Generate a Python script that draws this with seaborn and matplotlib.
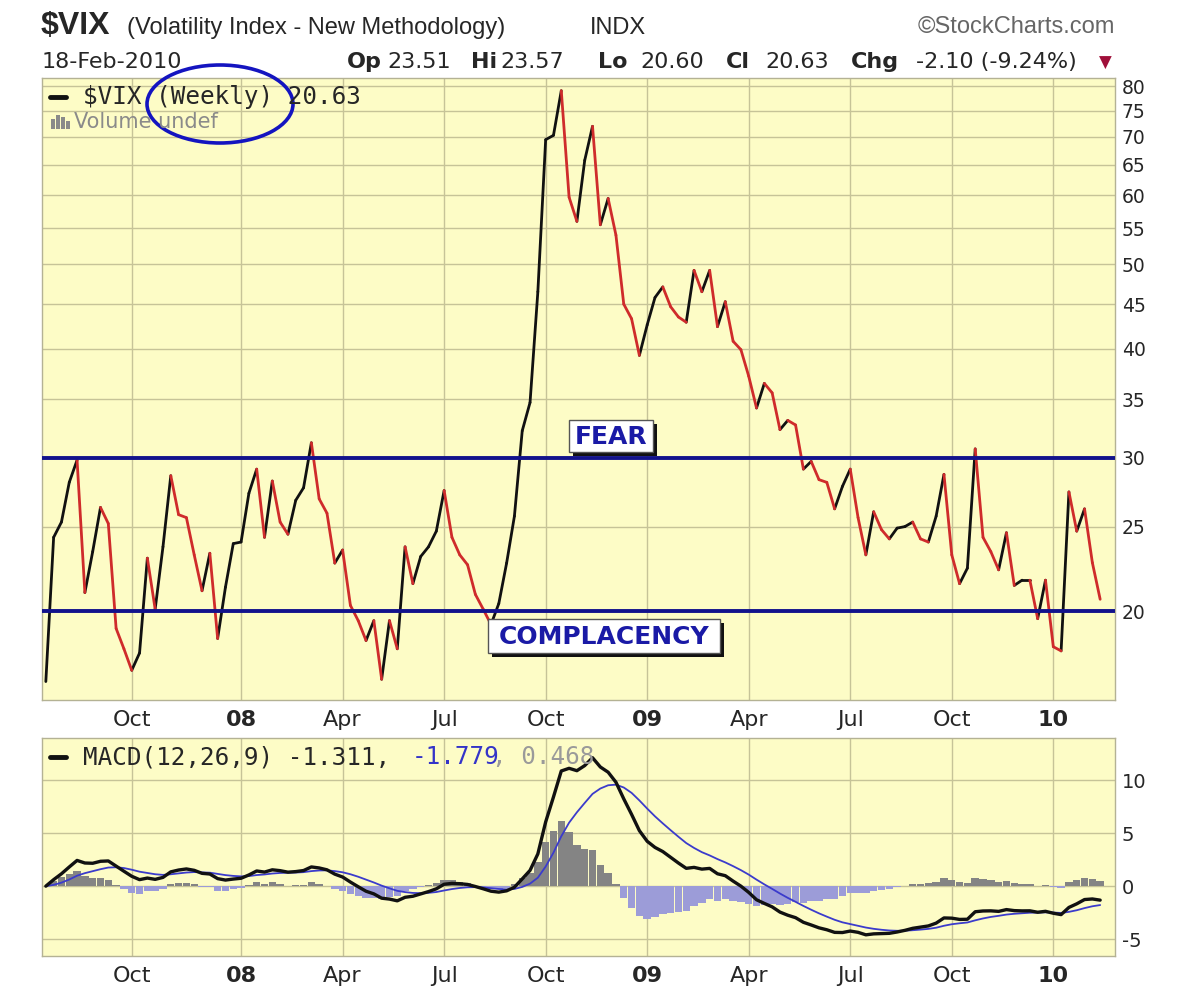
import numpy as np
import pandas as pd
import matplotlib
matplotlib.use("Agg")
import matplotlib.pyplot as plt
import seaborn as sns
from matplotlib.patches import Ellipse, Rectangle
from matplotlib.lines import Line2D
from matplotlib.ticker import NullLocator

# weekly closes of $VIX (week of 16-Jul-2007 .. week of 15-Feb-2010)
vix_close = [
    16.6, 24.3, 25.3, 28.1, 29.8, 21.0, 23.4, 26.3, 25.2, 19.1,
    18.1, 17.1, 17.9, 23.0, 20.1, 23.7, 28.6, 25.8, 25.6, 23.2,
    21.1, 23.3, 18.6, 21.3, 23.9, 24.0, 27.3, 29.1, 24.3, 28.2,
    25.3, 24.5, 26.8, 27.7, 31.2, 26.9, 25.9, 22.7, 23.5, 20.3,
    19.5, 18.5, 19.5, 16.7, 19.5, 18.1, 23.7, 21.5, 23.1, 23.7,
    24.7, 27.5, 24.3, 23.2, 22.6, 20.9, 20.1, 19.3, 20.4, 22.7,
    25.7, 32.2, 34.7, 46.5, 69.5, 70.3, 79.1, 59.7, 56.0, 65.8,
    72.0, 55.5, 59.5, 54.0, 45.0, 43.3, 39.3, 42.6, 45.8, 47.1,
    44.7, 43.5, 42.9, 49.2, 46.5, 49.2, 42.4, 45.3, 40.8, 39.9,
    37.2, 34.2, 36.5, 35.6, 32.3, 33.1, 32.7, 29.1, 29.7, 28.3,
    28.1, 26.2, 27.8, 29.1, 25.6, 23.2, 26.0, 24.8, 24.2, 24.9,
    25.0, 25.3, 24.2, 24.0, 25.7, 28.7, 23.2, 21.5, 22.4, 30.7,
    24.3, 23.4, 22.3, 24.6, 21.4, 21.7, 21.7, 19.6, 21.7, 18.2,
    18.0, 27.4, 24.7, 26.2, 22.73, 20.63,
]
week_start = pd.date_range("2007-07-16", periods=len(vix_close), freq="W-MON")
quarter_labels = ["Oct", "08", "Apr", "Jul", "Oct", "09", "Apr", "Jul", "Oct", "10"]
vix_ticks = [20, 25, 30, 35, 40, 45, 50, 55, 60, 65, 70, 75, 80]
macd_ticks = [-5, 0, 5, 10]
macd_tick_labels = ["-5", "0", "5", "10"]
fear_level = 30
complacency_level = 20

W, H = 1200, 997
def fx(x):
    return x / W
def fy(y):
    return 1 - y / H

n = len(vix_close)
idx = np.arange(n)
months = week_start.month
qpos = [i for i in range(1, n) if months[i] != months[i - 1] and months[i] in (1, 4, 7, 10)]

# up/down coloured line segments
rows = []
for k in range(n - 1):
    d = "up" if vix_close[k + 1] >= vix_close[k] else "down"
    rows.append((k, k, vix_close[k], d))
    rows.append((k, k + 1, vix_close[k + 1], d))
seg = pd.DataFrame(rows, columns=["seg", "x", "vix", "dir"])

# MACD(12,26,9)
s = pd.Series(vix_close)
macd = s.ewm(span=12, adjust=False).mean() - s.ewm(span=26, adjust=False).mean()
signal = macd.ewm(span=9, adjust=False).mean()
hist = macd - signal
mdf = pd.DataFrame({"x": idx, "macd": macd, "signal": signal})

sns.set_style("white")
plt.rcParams["font.family"] = ["DejaVu Sans"]

panel_bg = "#fdfcc6"
grid_col = "#c6c398"
navy = "#12128c"
label_blue = "#1a1aa6"

fig = plt.figure(figsize=(12, 9.97), dpi=100)

# ---- price panel
ax = fig.add_axes([fx(42), fy(700), (1115 - 42) / W, (700 - 78) / H])
ax.set_facecolor(panel_bg)
ax.set_yscale("log")
sns.lineplot(data=seg, x="x", y="vix", hue="dir", units="seg", estimator=None,
             palette={"up": "#111111", "down": "#cf2b2b"}, linewidth=2.0,
             legend=False, sort=False, ax=ax, solid_capstyle="round", zorder=2)
ax.axhline(fear_level, color=navy, lw=2.8, zorder=3)
ax.axhline(complacency_level, color=navy, lw=2.8, zorder=3)
ax.set_xlim(-0.49, 136.9)
ax.set_ylim(15.81, 81.8)
ax.yaxis.tick_right()
ax.set_yticks(vix_ticks)
ax.set_yticklabels([str(t) for t in vix_ticks])
ax.yaxis.set_minor_locator(NullLocator())
ax.set_xticks(qpos)
ax.set_xticklabels(quarter_labels)
ax.set_xlabel("")
ax.set_ylabel("")
ax.grid(True, color=grid_col, lw=1)
ax.set_axisbelow(True)
ax.tick_params(axis="y", length=0, labelsize=13.5, pad=5)
ax.tick_params(axis="x", length=0, labelsize=16, pad=7)

# ---- MACD panel
ax2 = fig.add_axes([fx(42), fy(956), (1115 - 42) / W, (956 - 738) / H])
ax2.set_facecolor(panel_bg)
ax2.bar(idx, hist, width=0.95, color=np.where(hist >= 0, "#848484", "#9c9cd8"), linewidth=0, zorder=2)
sns.lineplot(data=mdf, x="x", y="signal", color="#3b3bcc", linewidth=1.3, ax=ax2, zorder=3)
sns.lineplot(data=mdf, x="x", y="macd", color="#111111", linewidth=2.4, ax=ax2, zorder=4)
ax2.set_xlim(-0.49, 136.9)
ax2.set_ylim(-6.6, 14.0)
ax2.yaxis.tick_right()
ax2.set_yticks(macd_ticks)
ax2.set_yticklabels(macd_tick_labels)
ax2.set_xticks(qpos)
ax2.set_xticklabels(quarter_labels)
ax2.set_xlabel("")
ax2.set_ylabel("")
ax2.grid(True, color=grid_col, lw=1)
ax2.set_axisbelow(True)
ax2.tick_params(axis="y", length=0, labelsize=14, pad=5)
ax2.tick_params(axis="x", length=0, labelsize=16, pad=7)

for a in (ax, ax2):
    for sp in a.spines.values():
        sp.set_color("#b4b294")
        sp.set_linewidth(1)
    for lab in a.get_xticklabels():
        if lab.get_text().isdigit():
            lab.set_fontweight("bold")

# ---- header text
fig.text(fx(41), fy(26), "$VIX", fontsize=23, fontweight="bold", va="center", family="Liberation Sans")
fig.text(fx(127), fy(28), "(Volatility Index - New Methodology)", fontsize=17, va="center", family="Liberation Sans")
fig.text(fx(590), fy(28), "INDX", fontsize=17, va="center", family="Liberation Sans")
fig.text(fx(1115), fy(27), "\u00a9StockCharts.com", fontsize=17, va="center", ha="right", color="#666666",
         family="Liberation Sans")
fig.text(fx(42), fy(62), "18-Feb-2010", fontsize=16, va="center", family="DejaVu Sans")
hdr = [("Op", 347, True), ("23.51", 387, False), ("Hi", 471, True), ("23.57", 500, False),
       ("Lo", 598, True), ("20.60", 640, False), ("Cl", 726, True), ("20.63", 765, False),
       ("Chg", 851, True), ("-2.10 (-9.24%)", 916, False)]
for txt, x, bold in hdr:
    fig.text(fx(x), fy(62), txt, fontsize=16, va="center",
             fontweight="bold" if bold else "normal", family="DejaVu Sans")
fig.text(fx(1105), fy(63), "\u25bc", fontsize=12, va="center", ha="center", color="#a0103a")

# ---- legends inside panels
fig.add_artist(Line2D([fx(50), fx(66)], [fy(97), fy(97)], color="#111111", lw=3.5))
fig.text(fx(83), fy(97), "$VIX (Weekly) 20.63", fontsize=17.5, va="center", family="DejaVu Sans Mono")
for bx, bh in [(51, 10), (56, 14), (61, 12), (66, 8)]:
    fig.add_artist(Rectangle((fx(bx), fy(129)), 3.5 / W, bh / H, color="#8a8a8a", lw=0))
fig.text(fx(74), fy(122), "Volume undef", fontsize=15, va="center", color="#8a8a8a")
fig.add_artist(Ellipse((fx(220), fy(104)), 146 / W, 78 / H, angle=0, fill=False, ec="#1414c0", lw=2.6))

fig.add_artist(Line2D([fx(50), fx(66)], [fy(757), fy(757)], color="#111111", lw=3.5))
fig.text(fx(83), fy(757), "MACD(12,26,9) -1.311,", fontsize=17.5, va="center", family="DejaVu Sans Mono")
fig.text(fx(412), fy(757), "-1.779", fontsize=17.5, va="center", family="DejaVu Sans Mono", color="#3434c8")
fig.text(fx(492), fy(757), ", 0.468", fontsize=17.5, va="center", family="DejaVu Sans Mono", color="#9a9a9a")

# ---- FEAR / COMPLACENCY boxes
for (x0, y0, x1, y1, txt) in [(569, 420, 653, 452, "FEAR"), (488, 619, 720, 653, "COMPLACENCY")]:
    fig.add_artist(Rectangle((fx(x0 + 4), fy(y1 + 4)), (x1 - x0) / W, (y1 - y0) / H, color="#111111", lw=0))
    fig.add_artist(Rectangle((fx(x0), fy(y1)), (x1 - x0) / W, (y1 - y0) / H, fc="white", ec="#555555", lw=1))
    fig.text(fx((x0 + x1) / 2), fy((y0 + y1) / 2 + 1), txt, fontsize=18, fontweight="bold",
             color=label_blue, ha="center", va="center")

fig.savefig("out.png", dpi=100)
